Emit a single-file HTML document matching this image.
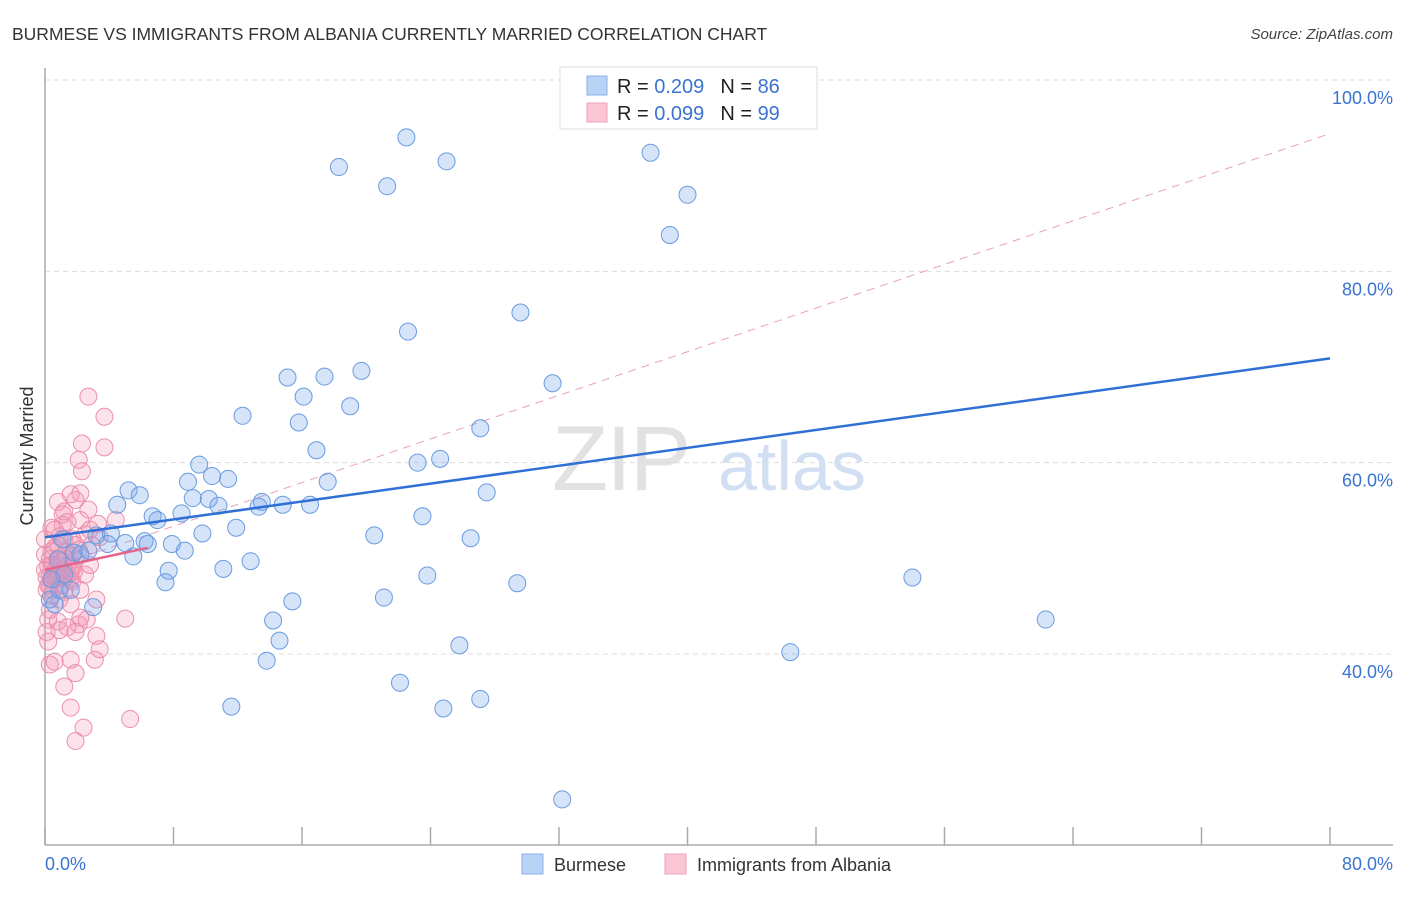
<!DOCTYPE html>
<html><head><meta charset="utf-8"><style>
body{margin:0;background:#fff;font-family:"Liberation Sans",sans-serif}
svg text{font-family:"Liberation Sans",sans-serif}
</style></head><body>
<svg id="chart" width="1406" height="892" viewBox="0 0 1406 892" xmlns="http://www.w3.org/2000/svg">
<text x="12" y="40" font-size="17.5" fill="#333">BURMESE VS IMMIGRANTS FROM ALBANIA CURRENTLY MARRIED CORRELATION CHART</text>
<text x="1393" y="39" font-size="15" font-style="italic" fill="#444" text-anchor="end">Source: ZipAtlas.com</text>
<g>
<text x="552" y="490" font-size="92" font-family="Liberation Serif" fill="#e2e2e2" letter-spacing="-2">ZIP</text>
<text x="718" y="490" font-size="70" fill="#d2def2">atlas</text>
</g>
<g id="grid"></g>
<g id="axes"></g>
<g id="marks"></g>
<text transform="translate(33,456) rotate(-90)" font-size="18" fill="#333" text-anchor="middle">Currently Married</text>
<g>
<rect x="560" y="67" width="257" height="62" fill="#fff" stroke="#ddd"/>
<g>
<rect x="587" y="76" width="20" height="19" fill="#b8d3f5" stroke="#8ab2ea"/>
<text x="617" y="93" font-size="20" fill="#222">R = <tspan fill="#3b73d1">0.209</tspan><tspan dx="16">N = </tspan><tspan fill="#3b73d1">86</tspan></text>
</g>
<g>
<rect x="587" y="103" width="20" height="19" fill="#fac6d6" stroke="#f0a0b8"/>
<text x="617" y="120" font-size="20" fill="#222">R = <tspan fill="#3b73d1">0.099</tspan><tspan dx="16">N = </tspan><tspan fill="#3b73d1">99</tspan></text>
</g>
</g>
<g>
<g>
<rect x="522" y="854" width="21" height="20" fill="#b8d3f5" stroke="#8ab2ea"/>
<text x="554" y="871" font-size="18" fill="#333">Burmese</text></g>
<g>
<rect x="665" y="854" width="21" height="20" fill="#fac6d6" stroke="#f0a0b8"/>
<text x="697" y="871" font-size="18" fill="#333">Immigrants from Albania</text></g>
</g>
</svg>
<script>
const yTicks=[40,60,80,100];
const yTickLabels=["40.0%","60.0%","80.0%","100.0%"];
const xTickLabels=["0.0%","80.0%"];
const burmeseX=[22.5,18.3,25.0,21.3,37.7,40.0,38.9,29.6,22.6,31.6,19.7,15.1,17.4,16.1,19.0,12.3,15.8,27.1,16.9,24.6,23.2,9.6,8.9,11.4,17.6,10.4,27.5,5.2,5.9,9.2,10.2,4.5,10.8,13.5,13.3,14.8,16.5,6.7,7.0,8.5,11.9,23.5,9.8,20.5,26.5,4.1,3.2,5.0,3.9,6.2,6.4,7.9,8.7,2.7,1.8,5.5,12.8,7.7,11.1,7.5,23.8,29.4,54.0,21.1,15.4,3.0,14.2,14.6,62.3,25.8,46.4,13.8,22.1,11.6,24.8,27.1,32.2,0.6,0.9,1.2,0.3,0.8,1.1,1.6,2.2,0.4];
const burmeseY=[94.0,90.9,91.5,88.9,92.4,88.0,83.8,75.7,73.7,68.3,69.6,68.9,69.0,66.9,65.9,64.9,64.2,63.6,61.3,60.4,60.0,59.8,58.0,58.3,58.0,58.6,56.9,57.1,56.6,56.3,56.2,55.6,55.5,55.9,55.4,55.6,55.6,54.4,54.0,54.7,53.2,54.4,52.6,52.4,52.1,52.6,52.4,51.6,51.5,51.8,51.5,51.5,50.8,50.8,50.6,50.2,49.7,48.7,48.9,47.5,48.2,47.4,48.0,45.9,45.5,44.9,43.5,41.4,43.6,40.9,40.2,39.3,37.0,34.5,34.3,35.3,24.8,45.2,46.7,48.3,45.7,49.9,52.0,46.7,50.4,47.8];
const albaniaX=[2.7,3.7,2.3,3.7,2.1,2.3,2.2,0.8,1.9,1.2,2.7,4.4,1.4,0.4,3.3,0.9,1.7,2.5,0.6,1.3,2.1,2.9,0.3,0.8,1.1,1.4,1.7,0.3,0.7,1.0,1.6,0.0,0.2,0.5,1.2,2.2,2.5,2.8,1.9,0.9,1.6,0.3,0.2,0.8,1.4,2.1,2.6,3.2,5.0,0.1,0.9,1.9,2.2,3.2,3.4,0.2,1.6,3.1,0.6,0.3,1.9,1.2,1.6,5.3,2.4,1.9,0.0,0.4,0.9,1.3,1.7,0.2,0.6,0.9,1.3,1.7,0.1,0.4,0.8,1.2,1.9,1.1,0.6,0.0,1.1,2.2,2.8,3.4,1.6,0.3,0.7,1.1,1.4,1.8,0.1,0.4,0.8,1.2,1.6];
const albaniaY=[66.9,64.8,62.0,61.6,60.3,59.1,56.8,55.9,56.1,54.9,55.1,54.0,53.8,53.2,53.6,52.3,52.0,52.5,51.1,50.7,50.9,51.4,49.9,49.3,48.8,48.3,49.0,48.3,47.8,47.2,47.8,48.8,47.2,46.7,46.5,46.7,48.3,49.3,49.9,45.7,45.2,44.6,43.6,43.4,42.8,43.1,43.6,45.7,43.7,42.3,42.5,42.3,43.8,41.9,40.5,41.3,39.4,39.4,39.2,38.9,38.0,36.6,34.4,33.2,32.3,30.9,50.4,50.7,50.1,49.9,50.3,49.2,48.6,48.3,48.0,47.6,46.7,46.1,51.4,52.0,51.4,53.5,53.0,52.0,54.6,54.0,53.0,52.2,56.7,47.2,49.0,49.7,49.2,48.6,48.0,49.3,48.0,48.8,48.6];
const burmeseTrendX=[0,80];
const burmeseTrendY=[52.2,70.9];
const albaniaTrendX=[0,6.4];
const albaniaTrendY=[48.8,51.1];
const albaniaDashX=[0,80];
const albaniaDashY=[48.8,94.4];

const X0=45,X1=1330;
const sx=v=>X0+(X1-X0)*v/80;
const sy=v=>654-(v-40)*(654-80)/60;
const NS="http://www.w3.org/2000/svg";
function mk(tag,attrs,parent){const e=document.createElementNS(NS,tag);for(const k in attrs)e.setAttribute(k,attrs[k]);parent.appendChild(e);return e;}
const grid=document.getElementById('grid'),axes=document.getElementById('axes'),marks=document.getElementById('marks');
yTicks.forEach((t,i)=>{
 const l=mk('line',{x1:X0,x2:1393,y1:sy(t),y2:sy(t),stroke:'#ddd','stroke-dasharray':'5,4'},grid);
 
 
 const tx=mk('text',{x:1393,y:sy(t)+24,'font-size':18,fill:'#3b73d1','text-anchor':'end'},axes);
 tx.textContent=yTickLabels[i];
 
 
});
const ya=mk('line',{x1:X0,x2:X0,y1:68,y2:845,stroke:'#aaa','stroke-width':1.5},axes);


const xa=mk('line',{x1:X0,x2:1393,y1:845,y2:845,stroke:'#aaa','stroke-width':1.5},axes);


for(let i=0;i<=10;i++){
 const tk=mk('line',{x1:sx(i*8),x2:sx(i*8),y1:827,y2:845,stroke:'#aaa','stroke-width':1.5},axes);
 
 
}
const xl0=mk('text',{x:45,y:870,'font-size':18,fill:'#3b73d1'},axes);xl0.textContent=xTickLabels[0];


const xl1=mk('text',{x:1393,y:870,'font-size':18,fill:'#3b73d1','text-anchor':'end'},axes);xl1.textContent=xTickLabels[1];



const dl=mk('line',{x1:sx(albaniaDashX[0]),y1:sy(albaniaDashY[0]),x2:sx(albaniaDashX[1]),y2:sy(albaniaDashY[1]),stroke:'#e8a0b5','stroke-width':1,'stroke-dasharray':'8,6'},marks);


albaniaX.forEach((x,i)=>{
 const c=mk('circle',{cx:sx(x),cy:sy(albaniaY[i]),r:8.5,fill:'rgba(244,150,180,0.28)',stroke:'#ec8fae','stroke-width':1},marks);
 
 
});
burmeseX.forEach((x,i)=>{
 const c=mk('circle',{cx:sx(x),cy:sy(burmeseY[i]),r:8.5,fill:'rgba(120,165,235,0.3)',stroke:'#6a9be0','stroke-width':1},marks);
 
 
});
const bl=mk('line',{x1:sx(burmeseTrendX[0]),y1:sy(burmeseTrendY[0]),x2:sx(burmeseTrendX[1]),y2:sy(burmeseTrendY[1]),stroke:'#2f6fd6','stroke-width':2.5},marks);


const pl=mk('line',{x1:sx(albaniaTrendX[0]),y1:sy(albaniaTrendY[0]),x2:sx(albaniaTrendX[1]),y2:sy(albaniaTrendY[1]),stroke:'#e5648c','stroke-width':2.5},marks);


</script>
</body></html>
